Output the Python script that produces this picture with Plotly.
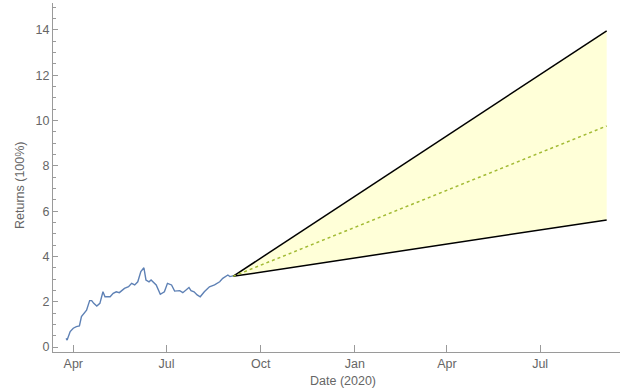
import plotly.graph_objects as go

# Observed cumulative returns (units of 100%)
hist_dates = [
    "2020-03-25", "2020-03-26", "2020-03-29", "2020-04-01", "2020-04-04", "2020-04-07",
    "2020-04-09", "2020-04-14", "2020-04-17", "2020-04-19", "2020-04-21", "2020-04-24",
    "2020-04-27", "2020-04-30", "2020-05-02", "2020-05-07", "2020-05-10", "2020-05-13",
    "2020-05-16", "2020-05-21", "2020-05-25", "2020-05-28", "2020-05-31", "2020-06-03",
    "2020-06-06", "2020-06-09", "2020-06-11", "2020-06-14", "2020-06-16", "2020-06-21",
    "2020-06-25", "2020-06-29", "2020-07-02", "2020-07-06", "2020-07-09", "2020-07-14",
    "2020-07-17", "2020-07-20", "2020-07-23", "2020-07-25", "2020-07-28", "2020-07-31",
    "2020-08-03", "2020-08-07", "2020-08-12", "2020-08-17", "2020-08-22", "2020-08-25",
    "2020-08-30", "2020-09-01", "2020-09-04",
]
hist_returns = [
    0.38, 0.31, 0.68, 0.83, 0.90, 0.93,
    1.34, 1.63, 2.05, 2.05, 1.93, 1.81,
    1.93, 2.44, 2.22, 2.22, 2.37, 2.44,
    2.40, 2.59, 2.66, 2.81, 2.74, 2.88,
    3.33, 3.50, 2.96, 2.88, 2.96, 2.74,
    2.33, 2.44, 2.81, 2.74, 2.47, 2.49,
    2.40, 2.52, 2.63, 2.49, 2.44, 2.30,
    2.22, 2.44, 2.66, 2.74, 2.88, 3.03,
    3.18, 3.11, 3.14,
]

# One-year projection cone
proj_dates = ["2020-09-04", "2021-09-04"]
proj_upper = [3.12, 13.96]
proj_mid = [3.12, 9.76]
proj_lower = [3.12, 5.61]

# Axis ticks
x_tick_vals = ["2020-04-01", "2020-07-01", "2020-10-01", "2021-01-01", "2021-04-01", "2021-07-01"]
x_tick_text = ["Apr", "Jul", "Oct", "Jan", "Apr", "Jul"]
y_tick_vals = [0, 2, 4, 6, 8, 10, 12, 14]

FONT = "Liberation Sans, Arial, sans-serif"
AXIS_COLOR = "#9a9a9a"
LABEL_COLOR = "#666666"

fig = go.Figure()

fig.add_trace(go.Scatter(
    x=proj_dates, y=proj_lower, mode="lines",
    line=dict(color="black", width=1.5), hoverinfo="skip", showlegend=False,
))
fig.add_trace(go.Scatter(
    x=proj_dates, y=proj_upper, mode="lines", fill="tonexty",
    fillcolor="rgb(255,255,216)",
    line=dict(color="black", width=1.5), hoverinfo="skip", showlegend=False,
))
fig.add_trace(go.Scatter(
    x=proj_dates, y=proj_mid, mode="lines",
    line=dict(color="#a3bb35", width=1.5, dash="dot"), showlegend=False,
))
fig.add_trace(go.Scatter(
    x=hist_dates, y=hist_returns, mode="lines",
    line=dict(color="#5e81b5", width=1.4), showlegend=False,
))

fig.update_layout(
    width=621, height=392,
    margin=dict(l=53, r=1, t=3, b=40),
    paper_bgcolor="white", plot_bgcolor="white",
    font=dict(family=FONT, size=12.5, color=LABEL_COLOR),
    xaxis=dict(
        range=["2020-03-12 05:00", "2021-09-17"],
        tickvals=x_tick_vals, ticktext=x_tick_text,
        showgrid=False, zeroline=False,
        showline=True, linecolor=AXIS_COLOR, linewidth=1.2,
        ticks="inside", ticklen=7, tickcolor=AXIS_COLOR, tickwidth=1,
        tickfont=dict(size=12.5, color=LABEL_COLOR),
    ),
    yaxis=dict(
        range=[-0.22, 15.19],
        tickvals=y_tick_vals,
        showgrid=False, zeroline=False,
        showline=True, linecolor=AXIS_COLOR, linewidth=1.2,
        ticks="inside", ticklen=5, tickcolor=AXIS_COLOR, tickwidth=1,
        minor=dict(ticks="inside", dtick=0.5, ticklen=3, tickcolor=AXIS_COLOR, tickwidth=1),
        tickfont=dict(size=12.5, color=LABEL_COLOR),
    ),
    annotations=[
        dict(text="Returns (100%)", xref="paper", yref="paper",
             x=-0.0582, y=0.4785, textangle=-90, showarrow=False,
             xanchor="center", yanchor="middle",
             font=dict(family=FONT, size=12.5, color=LABEL_COLOR)),
        dict(text="Date (2020)", xref="paper", yref="paper",
             x=0.5115, y=-0.083, showarrow=False,
             xanchor="center", yanchor="middle",
             font=dict(family=FONT, size=12.5, color=LABEL_COLOR)),
    ],
)

fig.write_html("out.html")
